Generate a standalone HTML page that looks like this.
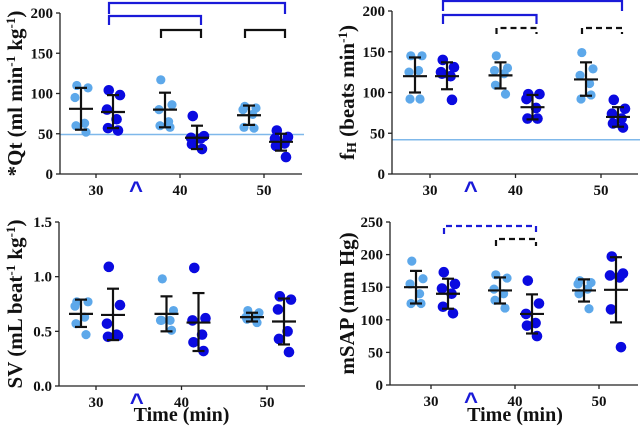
<!DOCTYPE html>
<html><head><meta charset="utf-8">
<style>
body{margin:0;background:#fff;width:640px;height:430px;overflow:hidden}
svg{display:block}
text{font-family:"Liberation Serif",serif;font-weight:bold;fill:#111}
</style></head>
<body>
<svg id="fig" width="640" height="430" viewBox="0 0 640 430" xmlns="http://www.w3.org/2000/svg"></svg>
<script>
// ---- data ----
const times = [30, 40, 50];
const qtLight = [[110,107,95,63,60,52],[117,86,80,65,60,58],[84,82,80,74,58,57]];
const qtDark  = [[104,98,80,68,57,54],[72,47,45,44,37,31],[54,46,44,38,35,21]];
const qtMeanL = [81,80,73], qtHiL=[107,101,85], qtLoL=[55,58,61];
const qtMeanD = [77,45,40], qtHiD=[98,60,50], qtLoD=[57,31,29];
const qtTicks = [0,50,100,150,200];

const fhLight = [[145,145,125,127,92,92],[145,130,127,123,109,98],[149,129,121,111,92,97]];
const fhDark  = [[140,131,125,120,123,91],[98,98,92,81,68,68],[91,80,74,68,62,57]];
const fhMeanL = [120,121,116], fhHiL=[143,137,137], fhLoL=[100,105,96];
const fhMeanD = [120,82,70], fhHiD=[137,97,82], fhLoD=[104,67,58];
const fhTicks = [0,50,100,150,200];

const svLight = [[0.77,0.77,0.73,0.63,0.57,0.47],[0.98,0.69,0.60,0.60,0.60,0.51],[0.69,0.67,0.63,0.62,0.61,0.58]];
const svDark  = [[1.09,0.74,0.57,0.47,0.45,0.46],[1.08,0.62,0.60,0.47,0.40,0.32],[0.82,0.79,0.70,0.50,0.43,0.31]];
const svMeanL = [0.66,0.66,0.63], svHiL=[0.79,0.82,0.67], svLoL=[0.54,0.50,0.59];
const svMeanD = [0.65,0.58,0.59], svHiD=[0.89,0.85,0.80], svLoD=[0.42,0.32,0.38];
const svTicks = [0,0.5,1.0,1.5];

const mapLight = [[190,163,155,140,125,125],[169,164,147,140,130,118],[160,157,155,147,140,117]];
const mapDark  = [[173,155,148,140,120,110],[160,125,109,95,91,75],[197,171,168,165,116,58]];
const mapMeanL = [150,145,145], mapHiL=[175,165,162], mapLoL=[125,125,128];
const mapMeanD = [140,109,146], mapHiD=[163,139,196], mapLoD=[117,79,96];
const mapTicks = [0,50,100,150,200,250];

const panels = [
 {name:'qt', ax:60, axEnd:302, y0:174, yTop:13, max:200, t30:96, sp:84, ticks:qtTicks, dec:0,
  L:qtLight,D:qtDark,mL:qtMeanL,hL:qtHiL,lL:qtLoL,mD:qtMeanD,hD:qtHiD,lD:qtLoD, ref:49,
  br:[[0,2,1,3,14,'#1a1ad8',0],[0,1,1,16,25,'#1a1ad8',0],[1,1,0,30,38,'#111',0],[2,2,0,30,38,'#111',0]],
  label:'*Qt (ml min<tspan dy="-7" font-size="13">-1</tspan><tspan dy="7"> kg</tspan><tspan dy="-7" font-size="13">-1</tspan><tspan dy="7">)</tspan>', lx:15, time:false},
 {name:'fh', ax:392, axEnd:638, y0:174, yTop:11, max:200, t30:430, sp:85.5, ticks:fhTicks, dec:0,
  L:fhLight,D:fhDark,mL:fhMeanL,hL:fhHiL,lL:fhLoL,mD:fhMeanD,hD:fhHiD,lD:fhLoD, ref:42,
  br:[[0,2,1,1,11,'#1a1ad8',0],[0,1,1,15,24,'#1a1ad8',0],[1,1,0,28,34,'#111',1],[2,2,0,28,34,'#111',1]],
  label:'f<tspan font-size="14" dy="2">H</tspan><tspan dy="-2"> (beats min</tspan><tspan dy="-7" font-size="13">-1</tspan><tspan dy="7">)</tspan>', lx:347, time:false},
 {name:'sv', ax:59, axEnd:305, y0:386, yTop:222, max:1.5, t30:96, sp:85.5, ticks:svTicks, dec:1,
  L:svLight,D:svDark,mL:svMeanL,hL:svHiL,lL:svLoL,mD:svMeanD,hD:svHiD,lD:svLoD, ref:null, br:[],
  label:'SV (mL beat<tspan dy="-7" font-size="13">-1</tspan><tspan dy="7"> kg</tspan><tspan dy="-7" font-size="13">-1</tspan><tspan dy="7">)</tspan>', lx:15, time:true},
 {name:'msap', ax:390, axEnd:638, y0:385, yTop:222, max:250, t30:431, sp:84, ticks:mapTicks, dec:0,
  L:mapLight,D:mapDark,mL:mapMeanL,hL:mapHiL,lL:mapLoL,mD:mapMeanD,hD:mapHiD,lD:mapLoD, ref:null,
  br:[[0,1,1,226,234,'#1a1ad8',1],[1,1,0,239,246,'#111',1]],
  label:'mSAP (mm Hg)', lx:347, time:true}
];
const NS='http://www.w3.org/2000/svg';
const fig=document.getElementById('fig');
function mk(tag,attrs,parent){const e=document.createElementNS(NS,tag);for(const k in attrs)e.setAttribute(k,attrs[k]);(parent||fig).appendChild(e);return e;}
const offs=[-1,1,-1,1,-1,1];
panels.forEach(p=>{
  const g=mk('g',{});
  
  
  const ys=v=>p.y0-(v/p.max)*(p.y0-p.yTop);
  const xs=t=>p.t30+(t-30)/10*p.sp;
  if(p.ref!==null){const r=mk('line',{x1:p.ax,x2:p.axEnd+2,y1:ys(p.ref),y2:ys(p.ref),stroke:'#7fb8ea','stroke-width':1.5},g);
    
    }
  const ya=mk('line',{x1:p.ax,x2:p.ax,y1:p.yTop,y2:p.y0,stroke:'#222','stroke-width':1.3},g);
  
  
  const xa=mk('line',{x1:p.ax,x2:p.axEnd,y1:p.y0,y2:p.y0,stroke:'#222','stroke-width':1.3},g);
  
  
  p.ticks.forEach(v=>{
    mk('line',{x1:p.ax-4,x2:p.ax,y1:ys(v),y2:ys(v),stroke:'#222','stroke-width':1.3},g);
    const t=mk('text',{x:p.ax-7,y:ys(v)+5,'text-anchor':'end','font-size':15},g);
    t.textContent=v.toFixed(p.dec);
    
    
  });
  times.forEach(tm=>{
    const x=xs(tm);
    mk('line',{x1:x,x2:x,y1:p.y0,y2:p.y0+4,stroke:'#222','stroke-width':1.3},g);
    const t=mk('text',{x:x,y:p.y0+21,'text-anchor':'middle','font-size':15},g);
    t.textContent=tm;
    
    
  });
  const c=mk('text',{x:xs(35)-2,y:p.y0+24,'text-anchor':'middle','font-size':24,style:'fill:#1a1ad8;font-family:Liberation Sans,sans-serif;font-weight:bold'},g);
  c.textContent='^';
  
  
  const yl=mk('text',{x:0,y:0,'text-anchor':'middle','font-size':21,transform:`translate(${p.lx+7},${(p.y0+p.yTop)/2}) rotate(-90)`},g);
  yl.innerHTML=p.label;
  
  
  if(p.time){const tl=mk('text',{x:xs(40),y:421,'text-anchor':'middle','font-size':20},g);
    tl.textContent='Time (min)';
    
    }
  times.forEach((tm,i)=>{
    [['L',-15,'#5da8ea',4.6],['D',17,'#0a0ae0',5.3]].forEach(([k,dx,col,r])=>{
      const cx=xs(tm)+dx;
      p[k][i].forEach((v,j)=>{
        const d=mk('circle',{cx:cx+offs[j]*(j<2?7:j<4?6:5)*((j%3)?1:0.6),cy:ys(v),r:r,fill:col},g);
        
        
      });
      const m=p['m'+k][i],h=p['h'+k][i],l=p['l'+k][i];
      const eb=mk('g',{stroke:'#111','stroke-width':2.2},g);
      
      
      mk('line',{x1:cx,x2:cx,y1:ys(h),y2:ys(l)},eb);
      mk('line',{x1:cx-6,x2:cx+6,y1:ys(h),y2:ys(h)},eb);
      mk('line',{x1:cx-6,x2:cx+6,y1:ys(l),y2:ys(l)},eb);
      mk('line',{x1:cx-12,x2:cx+12,y1:ys(m),y2:ys(m)},eb);
    });
  });
  p.br.forEach(b=>{
    const x1=xs(times[b[0]])+(b[2]?17:-15)-4, x2=xs(times[b[1]])+17+4;
    const pl=mk('polyline',{points:`${x1},${b[4]} ${x1},${b[3]} ${x2},${b[3]} ${x2},${b[4]}`,fill:'none',stroke:b[5],'stroke-width':2.2},g);
    if(b[6])pl.setAttribute('stroke-dasharray','6,4');
    
    
  });
});
</script>
</body></html>
